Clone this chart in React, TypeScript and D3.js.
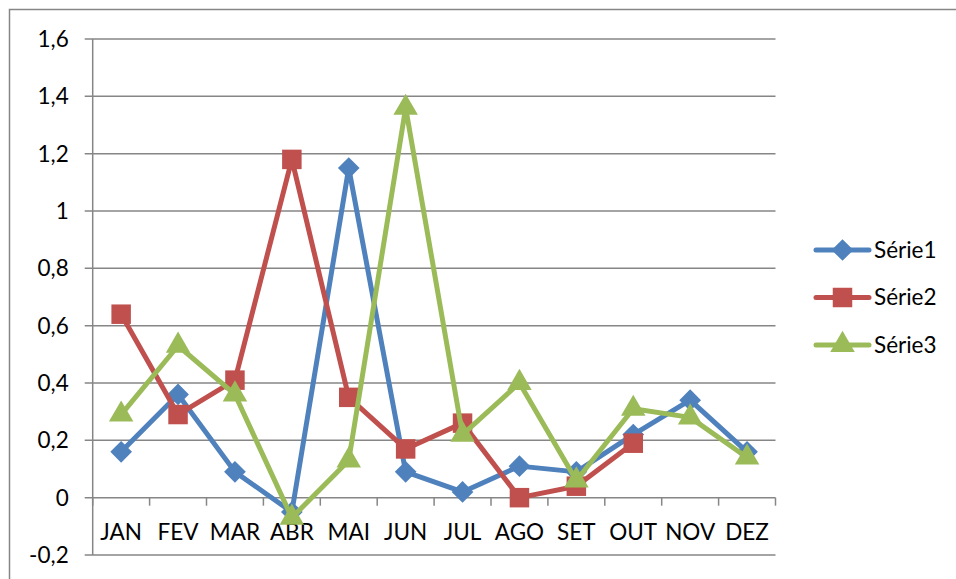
import React, { useEffect, useRef } from 'react';
import * as d3 from 'd3';

// Chart data
const months = ['JAN', 'FEV', 'MAR', 'ABR', 'MAI', 'JUN', 'JUL', 'AGO', 'SET', 'OUT', 'NOV', 'DEZ'];
const serie1 = [0.16, 0.36, 0.09, -0.05, 1.15, 0.09, 0.02, 0.11, 0.09, 0.22, 0.34, 0.16];
const serie2 = [0.64, 0.29, 0.41, 1.18, 0.35, 0.17, 0.26, 0.0, 0.04, 0.19, null, null];
const serie3 = [0.29, 0.53, 0.36, -0.07, 0.13, 1.36, 0.22, 0.4, 0.06, 0.31, 0.28, 0.14];
const seriesNames = ['Série1', 'Série2', 'Série3'];
const yTicks = [-0.2, 0, 0.2, 0.4, 0.6, 0.8, 1, 1.2, 1.4, 1.6];

const W = 956;
const H = 579;
const plot = { left: 92.7, right: 775.5, top: 39, bottom: 555 };
const colors = ['#4F81BD', '#C0504D', '#9BBB59'];
const shapes = [d3.symbolDiamond2, d3.symbolSquare, d3.symbolTriangle];
const symSizes = [300, 380, 260];
const font = 'Lato, "Liberation Sans", sans-serif';
const fontSize = 22.5;

function App() {
    const ref = useRef<SVGSVGElement>(null);

    useEffect(() => {
        const svg = d3.select(ref.current).html('');

        // outer chart border (left and top visible)
        svg.append('path')
            .attr('d', `M9.5,${H + 5} V9.5 H${W + 5}`)
            .attr('fill', 'none')
            .attr('stroke', '#868686')
            .attr('stroke-width', 1.5);

        const x = d3.scaleBand<string>().domain(months).range([plot.left, plot.right]);
        const y = d3.scaleLinear().domain([-0.2, 1.6]).range([plot.bottom, plot.top]);

        // gridlines
        svg.append('g')
            .selectAll('line')
            .data(yTicks)
            .join('line')
            .attr('x1', plot.left - 8)
            .attr('x2', plot.right)
            .attr('y1', (d) => y(d))
            .attr('y2', (d) => y(d))
            .attr('stroke', '#868686')
            .attr('stroke-width', 1.5);

        // y axis line
        svg.append('line')
            .attr('x1', plot.left).attr('x2', plot.left)
            .attr('y1', plot.top).attr('y2', plot.bottom)
            .attr('stroke', '#868686').attr('stroke-width', 1.5);

        // y tick labels (comma decimals, plain hyphen for minus)
        svg.append('g')
            .selectAll('text')
            .data(yTicks)
            .join('text')
            .attr('x', plot.left - 24)
            .attr('y', (d) => y(d))
            .attr('dy', '0.35em')
            .attr('text-anchor', 'end')
            .attr('font-family', font)
            .attr('font-size', fontSize)
            .attr('fill', '#000')
            .text((d) => d3.format('.1~f')(d).replace('.', ',').replace('\u2212', '-'));

        // x axis ticks at zero
        const boundaries = d3.range(months.length + 1).map((i) => plot.left + i * x.step());
        svg.append('g')
            .selectAll('line')
            .data(boundaries)
            .join('line')
            .attr('x1', (d) => d).attr('x2', (d) => d)
            .attr('y1', y(0)).attr('y2', y(0) + 8)
            .attr('stroke', '#868686').attr('stroke-width', 1.5);

        svg.append('g')
            .selectAll('text')
            .data(months)
            .join('text')
            .attr('x', (d) => (x(d) as number) + x.bandwidth() / 2)
            .attr('y', y(0) + 34)
            .attr('dy', '0.35em')
            .attr('text-anchor', 'middle')
            .attr('font-family', font)
            .attr('font-size', fontSize)
            .attr('fill', '#000')
            .text((d) => d);

        // series lines and markers
        const allSeries = [serie1, serie2, serie3];
        allSeries.forEach((vals, si) => {
            const pts = vals.map((v, i) => ({ m: months[i], v })).filter((p) => p.v !== null);
            const line = d3.line<{ m: string; v: number | null }>()
                .x((d) => (x(d.m) as number) + x.bandwidth() / 2)
                .y((d) => y(d.v as number));
            svg.append('path')
                .datum(pts)
                .attr('d', line)
                .attr('fill', 'none')
                .attr('stroke', colors[si])
                .attr('stroke-width', 5)
                .attr('stroke-linejoin', 'round');
            const sym = d3.symbol().type(shapes[si]).size(symSizes[si]);
            svg.append('g')
                .selectAll('path')
                .data(pts)
                .join('path')
                .attr('transform', (d) => `translate(${(x(d.m) as number) + x.bandwidth() / 2},${y(d.v as number)})`)
                .attr('d', sym)
                .attr('fill', colors[si]);
        });

        // legend
        const legend = svg.append('g');
        seriesNames.forEach((name, i) => {
            const ly = 250 + i * 47.5;
            legend.append('line')
                .attr('x1', 816).attr('x2', 869)
                .attr('y1', ly).attr('y2', ly)
                .attr('stroke', colors[i]).attr('stroke-width', 5)
                .attr('stroke-linecap', 'round');
            legend.append('path')
                .attr('transform', `translate(842.5,${ly})`)
                .attr('d', d3.symbol().type(shapes[i]).size(symSizes[i])())
                .attr('fill', colors[i]);
            legend.append('text')
                .attr('x', 874)
                .attr('y', ly)
                .attr('dy', '0.35em')
                .attr('font-family', font)
                .attr('font-size', fontSize)
                .attr('fill', '#000')
                .text(name);
        });
    }, []);

    return (
        <svg
            ref={ref}
            width={W}
            height={H}
            style={{ position: 'absolute', left: 0, top: 0, background: '#fff' }}
        ></svg>
    );
}

export default App;
